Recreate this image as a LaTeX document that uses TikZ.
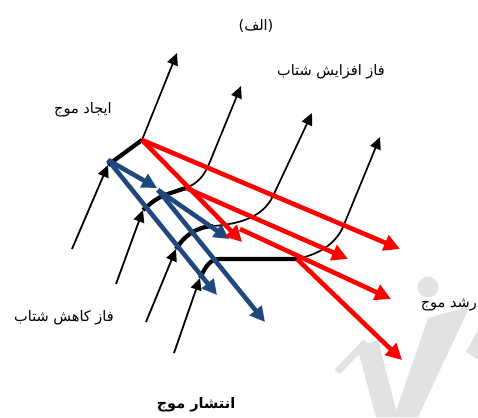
\documentclass[tikz,border=0pt]{standalone}
\usepackage{fontspec}
\usetikzlibrary{arrows.meta}
\newfontfamily\fa[Script=Arabic]{DejaVu Sans}
\TeXXeTstate=1
\definecolor{dblue}{RGB}{31,73,125}
\definecolor{wmgray}{RGB}{226,226,226}
\tikzset{
  inarrow/.style={line width=1.8pt,-{Triangle[length=12pt,width=11pt]}},
  toparrow/.style={line width=1.7pt,-{Triangle[length=12pt,width=11pt]}},
  thickseg/.style={line width=4.2pt},
  bluearrow/.style={draw=dblue,line width=4.6pt,-{Triangle[length=15pt,width=15pt]}},
  redarrow/.style={draw=red,line width=4.6pt,-{Triangle[length=16pt,width=16pt]}},
  lbl/.style={font=\fa\fontsize{14.5}{17}\selectfont,inner sep=0pt},
  wmstroke/.style={draw=wmgray,line cap=butt}
}
\begin{document}
\begin{tikzpicture}[x=1pt,y=-1pt]
\useasboundingbox (0,0) rectangle (478,417);
% watermark (faint grey strokes)
\fill[wmgray] (428,287) circle (10.5);
\draw[wmstroke,line width=7pt] (337,372) -- (366,342);
\fill[wmgray] (357,347) -- (378,340) -- (398,417) -- (376,417) -- cycle;
\fill[wmgray] (428,318) -- (470,306) -- (418,417) -- (394,417) -- cycle;
\fill[wmgray] (478,330) -- (466,352) -- (478,360) -- cycle;
% coordinates
\coordinate (a1s) at (72,249);  \coordinate (a1) at (108,165);
\coordinate (j1) at (142,140);  \coordinate (t1) at (177,53);
\coordinate (a2s) at (116,284); \coordinate (a2) at (143,210);
\coordinate (j2) at (186,188);  \coordinate (m2) at (209,164); \coordinate (t2) at (241,86);
\coordinate (a3s) at (146,322); \coordinate (a3) at (176,249);
\coordinate (j3) at (213,226);  \coordinate (m3) at (273,196); \coordinate (t3) at (312,113);
\coordinate (a4s) at (174,353); \coordinate (a4) at (200,278);
\coordinate (k4) at (220,259);  \coordinate (j4) at (297,259);
\coordinate (m4) at (343,227);  \coordinate (t4) at (380,137);
% black waves
\draw[inarrow] (a1s) -- (a1);
\draw[thickseg] (a1) -- (j1);
\draw[toparrow] (j1) -- (t1);
\draw[inarrow] (a2s) -- (a2);
\draw[thickseg] (a2) .. controls (158,197) .. (j2);
\draw[toparrow] (j2) .. controls (198,183) and (204,176) .. (m2) -- (t2);
\draw[inarrow] (a3s) -- (a3);
\draw[thickseg] (a3) .. controls (184,236) and (196,227) .. (j3);
\draw[toparrow] (j3) .. controls (240,224) and (263,217) .. (m3) -- (t3);
\draw[inarrow] (a4s) -- (a4);
\draw[thickseg] (a4) .. controls (206,266) and (210,259) .. (k4) -- (j4);
\draw[toparrow] (j4) .. controls (315,255) and (334,247) .. (m4) -- (t4);
% blue arrows
\coordinate (b1s) at (108,160); \coordinate (b1e) at (157,188); \coordinate (b2e) at (217,295);
\coordinate (b3s) at (158,190); \coordinate (b3e) at (229,239); \coordinate (b4e) at (265,322);
\draw[bluearrow] (b1s) -- (b1e);
\draw[bluearrow] (b1s) -- (b2e);
\draw[bluearrow] (b3s) -- (b3e);
\draw[bluearrow] (b3s) -- (b4e);
% red arrows
\coordinate (r1e) at (242,242); \coordinate (r2e) at (400,249);
\coordinate (r3e) at (348,259); \coordinate (r4s) at (240,229); \coordinate (r4e) at (391,299);
\coordinate (r5e) at (402,360);
\draw[redarrow] (j1) -- (r1e);
\draw[redarrow] (j1) -- (r2e);
\draw[redarrow] (j2) -- (r3e);
\draw[redarrow] (r4s) -- (r4e);
\draw[redarrow] (j4) -- (r5e);
% labels
\node[lbl] (alef) at (256,26) {\beginR(الف)\endR};
\node[lbl] (inc) at (331,72) {\beginR فاز افزایش شتاب\endR};
\node[lbl] (gen) at (83,110) {\beginR ایجاد موج\endR};
\node[lbl] (dec) at (64,318) {\beginR فاز کاهش شتاب\endR};
\node[lbl,anchor=east] (grow) at (477,305) {\beginR رشد موج\endR};
\node[lbl,font=\fa\bfseries\fontsize{14.5}{17}\selectfont] (prop) at (196,405) {\beginR انتشار موج\endR};
\end{tikzpicture}
\end{document}
